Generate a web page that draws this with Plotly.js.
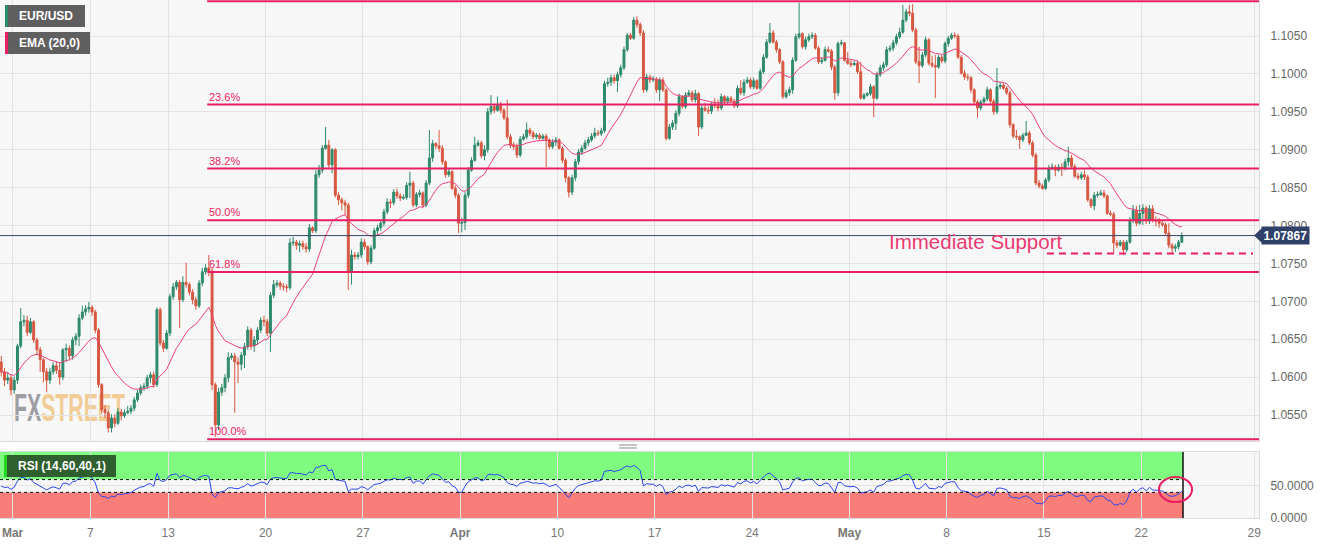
<!DOCTYPE html>
<html><head><meta charset="utf-8">
<script src="https://cdn.plot.ly/plotly-3.0.1.min.js"></script>
<style>html,body{margin:0;padding:0;background:#fff;}#chart{width:1328px;height:545px;}</style>
</head><body><div id="chart"></div>
<script>
// EUR/USD 4H candles, 28 Feb (late) .. 24 May 2023
const close = [
1.0607,1.0596,1.0599,1.0583,1.0596,1.0641,1.0673,1.0675,1.0659,1.0673,
1.0649,1.0636,1.0623,1.0607,1.0596,1.0607,1.0615,1.0609,1.0600,1.0636,
1.0638,1.0628,1.0649,1.0654,1.0678,1.0686,1.0690,1.0692,1.0686,1.0662,
1.0590,1.0557,1.0553,1.0533,1.0546,1.0539,1.0554,1.0549,1.0553,1.0555,
1.0559,1.0570,1.0579,1.0586,1.0588,1.0599,1.0603,1.0590,1.0689,1.0645,
1.0638,1.0658,1.0706,1.0719,1.0725,1.0702,1.0725,1.0722,1.0712,1.0702,
1.0694,1.0724,1.0739,1.0744,1.0740,1.0590,1.0537,1.0580,1.0586,1.0599,
1.0626,1.0628,1.0620,1.0617,1.0629,1.0640,1.0662,1.0641,1.0649,1.0662,
1.0675,1.0673,1.0658,1.0708,1.0722,1.0724,1.0720,1.0719,1.0718,1.0777,
1.0778,1.0774,1.0776,1.0772,1.0769,1.0797,1.0793,1.0867,1.0873,1.0902,
1.0906,1.0880,1.0900,1.0840,1.0834,1.0830,1.0827,1.0739,1.0761,1.0759,
1.0761,1.0778,1.0772,1.0752,1.0770,1.0793,1.0797,1.0803,1.0818,1.0831,
1.0830,1.0844,1.0839,1.0836,1.0837,1.0853,1.0856,1.0827,1.0841,1.0843,
1.0827,1.0856,1.0889,1.0908,1.0905,1.0902,1.0884,1.0867,1.0871,1.0849,
1.0840,1.0803,1.0804,1.0840,1.0873,1.0886,1.0906,1.0909,1.0892,1.0900,
1.0950,1.0957,1.0952,1.0958,1.0952,1.0942,1.0917,1.0906,1.0904,1.0893,
1.0914,1.0917,1.0926,1.0922,1.0917,1.0919,1.0915,1.0918,1.0913,1.0904,
1.0910,1.0913,1.0902,1.0886,1.0863,1.0844,1.0863,1.0884,1.0897,1.0902,
1.0909,1.0913,1.0918,1.0922,1.0921,1.0925,1.0987,1.0989,1.0995,1.0991,
1.0999,1.1008,1.1032,1.1051,1.1047,1.1071,1.1065,1.1054,1.0979,1.0996,
1.0992,1.0993,1.0979,1.0992,1.0979,1.0915,1.0930,1.0935,1.0948,1.0970,
1.0957,1.0972,1.0975,1.0966,1.0974,1.0930,1.0955,1.0952,1.0951,1.0960,
1.0958,1.0955,1.0970,1.0964,1.0968,1.0964,1.0958,1.0981,1.0975,1.0989,
1.0992,1.0983,1.0991,1.0981,1.1003,1.1022,1.1042,1.1054,1.1042,1.1032,
1.1016,1.0970,1.0975,1.0979,1.1018,1.1049,1.1053,1.1036,1.1045,1.1049,
1.1051,1.1034,1.1016,1.1018,1.1032,1.1030,1.1009,1.0975,1.1040,1.1041,
1.1018,1.1014,1.1012,1.1014,1.1003,1.0968,1.0972,1.0974,1.0983,1.0968,
1.0999,1.1008,1.1012,1.1032,1.1034,1.1041,1.1049,1.1055,1.1071,1.1082,
1.1080,1.1058,1.1016,1.1011,1.1025,1.1045,1.1014,1.1011,1.1009,1.1022,
1.1017,1.1040,1.1047,1.1051,1.1050,1.1022,1.1001,1.0996,1.0995,1.0979,
1.0963,1.0955,1.0963,1.0967,1.0979,1.0964,1.0950,1.0983,1.0985,1.0981,
1.0975,1.0933,1.0918,1.0917,1.0913,1.0919,1.0922,1.0909,1.0893,1.0856,
1.0852,1.0849,1.0860,1.0876,1.0877,1.0873,1.0877,1.0876,1.0884,1.0889,
1.0878,1.0865,1.0863,1.0867,1.0864,1.0834,1.0826,1.0840,1.0841,1.0843,
1.0839,1.0816,1.0815,1.0777,1.0774,1.0778,1.0768,1.0778,1.0807,1.0820,
1.0803,1.0816,1.0823,1.0806,1.0822,1.0807,1.0806,1.0803,1.0801,1.0790,
1.0774,1.0770,1.0772,1.0778,1.07867];

const open = [1.0620,
1.0607,1.0596,1.0599,1.0583,1.0596,1.0641,1.0673,1.0675,1.0659,1.0673,
1.0649,1.0636,1.0623,1.0607,1.0596,1.0607,1.0615,1.0609,1.0600,1.0636,
1.0638,1.0628,1.0649,1.0654,1.0678,1.0686,1.0690,1.0692,1.0686,1.0662,
1.0590,1.0557,1.0553,1.0533,1.0546,1.0539,1.0554,1.0549,1.0553,1.0555,
1.0559,1.0570,1.0579,1.0586,1.0588,1.0599,1.0603,1.0590,1.0689,1.0645,
1.0638,1.0658,1.0706,1.0719,1.0725,1.0702,1.0725,1.0722,1.0712,1.0702,
1.0694,1.0724,1.0739,1.0744,1.0740,1.0590,1.0537,1.0580,1.0586,1.0599,
1.0626,1.0628,1.0620,1.0617,1.0629,1.0640,1.0662,1.0641,1.0649,1.0662,
1.0675,1.0673,1.0658,1.0708,1.0722,1.0724,1.0720,1.0719,1.0718,1.0777,
1.0778,1.0774,1.0776,1.0772,1.0769,1.0797,1.0793,1.0867,1.0873,1.0902,
1.0906,1.0880,1.0900,1.0840,1.0834,1.0830,1.0827,1.0739,1.0761,1.0759,
1.0761,1.0778,1.0772,1.0752,1.0770,1.0793,1.0797,1.0803,1.0818,1.0831,
1.0830,1.0844,1.0839,1.0836,1.0837,1.0853,1.0856,1.0827,1.0841,1.0843,
1.0827,1.0856,1.0889,1.0908,1.0905,1.0902,1.0884,1.0867,1.0871,1.0849,
1.0840,1.0803,1.0804,1.0840,1.0873,1.0886,1.0906,1.0909,1.0892,1.0900,
1.0950,1.0957,1.0952,1.0958,1.0952,1.0942,1.0917,1.0906,1.0904,1.0893,
1.0914,1.0917,1.0926,1.0922,1.0917,1.0919,1.0915,1.0918,1.0913,1.0904,
1.0910,1.0913,1.0902,1.0886,1.0863,1.0844,1.0863,1.0884,1.0897,1.0902,
1.0909,1.0913,1.0918,1.0922,1.0921,1.0925,1.0987,1.0989,1.0995,1.0991,
1.0999,1.1008,1.1032,1.1051,1.1047,1.1071,1.1065,1.1054,1.0979,1.0996,
1.0992,1.0993,1.0979,1.0992,1.0979,1.0915,1.0930,1.0935,1.0948,1.0970,
1.0957,1.0972,1.0975,1.0966,1.0974,1.0930,1.0955,1.0952,1.0951,1.0960,
1.0958,1.0955,1.0970,1.0964,1.0968,1.0964,1.0958,1.0981,1.0975,1.0989,
1.0992,1.0983,1.0991,1.0981,1.1003,1.1022,1.1042,1.1054,1.1042,1.1032,
1.1016,1.0970,1.0975,1.0979,1.1018,1.1049,1.1053,1.1036,1.1045,1.1049,
1.1051,1.1034,1.1016,1.1018,1.1032,1.1030,1.1009,1.0975,1.1040,1.1041,
1.1018,1.1014,1.1012,1.1014,1.1003,1.0968,1.0972,1.0974,1.0983,1.0968,
1.0999,1.1008,1.1012,1.1032,1.1034,1.1041,1.1049,1.1055,1.1071,1.1082,
1.1080,1.1058,1.1016,1.1011,1.1025,1.1045,1.1014,1.1011,1.1009,1.1022,
1.1017,1.1040,1.1047,1.1051,1.1050,1.1022,1.1001,1.0996,1.0995,1.0979,
1.0963,1.0955,1.0963,1.0967,1.0979,1.0964,1.0950,1.0983,1.0985,1.0981,
1.0975,1.0933,1.0918,1.0917,1.0913,1.0919,1.0922,1.0909,1.0893,1.0856,
1.0852,1.0849,1.0860,1.0876,1.0877,1.0873,1.0877,1.0876,1.0884,1.0889,
1.0878,1.0865,1.0863,1.0867,1.0864,1.0834,1.0826,1.0840,1.0841,1.0843,
1.0839,1.0816,1.0815,1.0777,1.0774,1.0778,1.0768,1.0778,1.0807,1.0820,
1.0803,1.0816,1.0823,1.0806,1.0822,1.0807,1.0806,1.0803,1.0801,1.0790,
1.0774,1.0770,1.0772,1.0778];

const high = [
1.0628,1.0612,1.0607,1.0603,1.0601,1.0644,1.0691,1.0682,1.0681,1.0678,
1.0675,1.0652,1.0640,1.0625,1.0612,1.0612,1.0620,1.0620,1.0620,1.0638,
1.0644,1.0642,1.0653,1.0658,1.0683,1.0694,1.0695,1.0699,1.0695,1.0689,
1.0665,1.0592,1.0563,1.0557,1.0551,1.0551,1.0559,1.0558,1.0557,1.0562,
1.0563,1.0574,1.0583,1.0590,1.0592,1.0603,1.0607,1.0607,1.0692,1.0692,
1.0649,1.0662,1.0710,1.0724,1.0728,1.0728,1.0733,1.0751,1.0725,1.0716,
1.0706,1.0728,1.0744,1.0749,1.0761,1.0744,1.0593,1.0586,1.0591,1.0604,
1.0633,1.0632,1.0632,1.0626,1.0633,1.0645,1.0667,1.0665,1.0654,1.0666,
1.0679,1.0681,1.0677,1.0712,1.0728,1.0728,1.0727,1.0724,1.0723,1.0783,
1.0785,1.0781,1.0780,1.0780,1.0777,1.0802,1.0799,1.0873,1.0880,1.0906,
1.0930,1.0913,1.0902,1.0902,1.0844,1.0837,1.0834,1.0830,1.0768,1.0765,
1.0765,1.0783,1.0782,1.0774,1.0774,1.0797,1.0801,1.0807,1.0822,1.0836,
1.0835,1.0848,1.0849,1.0843,1.0841,1.0857,1.0871,1.0859,1.0844,1.0847,
1.0845,1.0860,1.0926,1.0913,1.0910,1.0926,1.0906,1.0886,1.0875,1.0873,
1.0853,1.0843,1.0810,1.0844,1.0877,1.0890,1.0917,1.0913,1.0912,1.0906,
1.0955,1.0972,1.0960,1.0970,1.0963,1.0955,1.0966,1.0921,1.0910,1.0908,
1.0918,1.0921,1.0936,1.0929,1.0925,1.0922,1.0922,1.0921,1.0921,1.0915,
1.0914,1.0917,1.0915,1.0905,1.0889,1.0865,1.0867,1.0888,1.0901,1.0906,
1.0913,1.0917,1.0922,1.0929,1.0926,1.0929,1.0991,1.0995,1.0999,1.0999,
1.1003,1.1012,1.1036,1.1054,1.1054,1.1075,1.1076,1.1068,1.1058,1.1000,
1.0999,1.0997,1.0996,1.0995,1.0995,1.0981,1.0934,1.0939,1.0952,1.0974,
1.0972,1.0976,1.0979,1.0978,1.0979,1.0976,1.0959,1.0962,1.0958,1.0963,
1.0968,1.0966,1.0974,1.0972,1.0971,1.0971,1.0967,1.0985,1.0992,1.0993,
1.0996,1.0995,1.0995,1.0993,1.1007,1.1026,1.1046,1.1067,1.1058,1.1045,
1.1034,1.1018,1.0979,1.0983,1.1022,1.1053,1.1094,1.1055,1.1049,1.1053,
1.1055,1.1054,1.1037,1.1022,1.1036,1.1036,1.1033,1.1012,1.1043,1.1045,
1.1042,1.1029,1.1018,1.1017,1.1017,1.1016,1.0975,1.0976,1.0987,1.0985,
1.1003,1.1012,1.1016,1.1036,1.1038,1.1045,1.1053,1.1061,1.1091,1.1086,
1.1091,1.1092,1.1061,1.1036,1.1029,1.1049,1.1047,1.1024,1.1025,1.1025,
1.1025,1.1043,1.1050,1.1054,1.1055,1.1053,1.1025,1.1005,1.1000,1.0997,
1.0981,1.0966,1.0966,1.0970,1.0983,1.0981,1.0967,1.1008,1.0989,1.0988,
1.0984,1.0978,1.0935,1.0926,1.0919,1.0922,1.0938,1.0925,1.0912,1.0896,
1.0860,1.0855,1.0863,1.0880,1.0882,1.0880,1.0881,1.0882,1.0888,1.0904,
1.0893,1.0881,1.0869,1.0871,1.0873,1.0867,1.0836,1.0844,1.0845,1.0847,
1.0847,1.0841,1.0820,1.0818,1.0781,1.0781,1.0781,1.0781,1.0811,1.0827,
1.0826,1.0827,1.0828,1.0826,1.0827,1.0827,1.0812,1.0810,1.0807,1.0804,
1.0803,1.0777,1.0776,1.0781,1.0791];

const low = [
1.0601,1.0588,1.0591,1.0576,1.0578,1.0591,1.0638,1.0667,1.0654,1.0657,
1.0645,1.0629,1.0607,1.0593,1.0580,1.0591,1.0603,1.0604,1.0590,1.0596,
1.0620,1.0623,1.0623,1.0642,1.0641,1.0675,1.0681,1.0685,1.0681,1.0658,
1.0586,1.0553,1.0546,1.0527,1.0527,1.0534,1.0537,1.0543,1.0546,1.0551,
1.0551,1.0555,1.0567,1.0576,1.0582,1.0584,1.0592,1.0586,1.0587,1.0641,
1.0633,1.0636,1.0654,1.0702,1.0715,1.0665,1.0699,1.0718,1.0708,1.0696,
1.0689,1.0691,1.0720,1.0735,1.0733,1.0583,1.0521,1.0530,1.0575,1.0580,
1.0593,1.0623,1.0553,1.0592,1.0609,1.0612,1.0636,1.0636,1.0633,1.0642,
1.0658,1.0667,1.0654,1.0633,1.0704,1.0718,1.0715,1.0714,1.0712,1.0715,
1.0773,1.0768,1.0765,1.0768,1.0764,1.0765,1.0790,1.0790,1.0863,1.0869,
1.0900,1.0876,1.0869,1.0837,1.0827,1.0820,1.0814,1.0715,1.0722,1.0755,
1.0755,1.0757,1.0768,1.0748,1.0749,1.0768,1.0789,1.0793,1.0799,1.0815,
1.0823,1.0827,1.0835,1.0832,1.0834,1.0834,1.0836,1.0824,1.0824,1.0837,
1.0823,1.0824,1.0853,1.0884,1.0901,1.0897,1.0880,1.0863,1.0864,1.0847,
1.0836,1.0790,1.0791,1.0794,1.0836,1.0871,1.0884,1.0904,1.0889,1.0886,
1.0896,1.0946,1.0948,1.0950,1.0948,1.0939,1.0914,1.0902,1.0900,1.0889,
1.0890,1.0912,1.0914,1.0918,1.0914,1.0914,1.0912,1.0912,1.0877,1.0901,
1.0901,1.0905,1.0900,1.0882,1.0857,1.0837,1.0840,1.0859,1.0880,1.0893,
1.0900,1.0905,1.0910,1.0915,1.0918,1.0918,1.0922,1.0983,1.0984,1.0987,
1.0976,1.0995,1.1005,1.1029,1.1045,1.1045,1.1061,1.1050,1.0975,1.0976,
1.0988,1.0989,1.0975,1.0964,1.0976,1.0912,1.0913,1.0926,1.0926,1.0944,
1.0954,1.0954,1.0970,1.0963,1.0962,1.0918,1.0927,1.0950,1.0947,1.0947,
1.0955,1.0951,1.0952,1.0960,1.0960,1.0962,1.0955,1.0955,1.0972,1.0971,
1.0987,1.0980,1.0980,1.0979,1.0979,1.1000,1.1020,1.1040,1.1040,1.1028,
1.1013,1.0967,1.0967,1.0971,1.0974,1.1016,1.1046,1.1033,1.1032,1.1042,
1.1046,1.1032,1.1013,1.1013,1.1016,1.1028,1.1005,1.0966,1.0971,1.1037,
1.1016,1.1012,1.1009,1.1011,1.1000,1.0966,1.0966,1.0970,1.0971,1.0943,
1.0966,1.0996,1.1004,1.1009,1.1029,1.1030,1.1038,1.1046,1.1053,1.1068,
1.1076,1.1055,1.1013,1.0988,1.1008,1.1022,1.1011,1.1008,1.0968,1.1007,
1.1014,1.1014,1.1036,1.1045,1.1047,1.1020,1.0999,1.0992,1.0991,1.0975,
1.0960,1.0942,1.0952,1.0960,1.0964,1.0960,1.0946,1.0947,1.0980,1.0979,
1.0972,1.0929,1.0915,1.0913,1.0901,1.0910,1.0918,1.0906,1.0890,1.0853,
1.0849,1.0847,1.0847,1.0857,1.0873,1.0865,1.0871,1.0865,1.0873,1.0878,
1.0876,1.0863,1.0860,1.0860,1.0860,1.0831,1.0823,1.0820,1.0837,1.0839,
1.0836,1.0814,1.0812,1.0764,1.0770,1.0772,1.0761,1.0765,1.0776,1.0803,
1.0799,1.0801,1.0801,1.0802,1.0802,1.0804,1.0799,1.0797,1.0798,1.0787,
1.0770,1.0763,1.0765,1.0768,1.0777];

// x-axis ticks (trading days from 1 Mar)
const tickDays = [0, 4, 8, 13, 18, 23, 28, 33, 38, 43, 48, 53, 58, 63.8];
const tickLabels = ['<b>Mar</b>','7','13','20','27','<b>Apr</b>','10','17','24','<b>May</b>','8','15','22','29'];
// Fibonacci retracement (swing high / low)
const fibHigh = 1.1096, fibLow = 1.0518;
const fibLevels = [0, 23.6, 38.2, 50.0, 61.8, 100.0];
const fibStartDay = 10;
const lastPrice = 1.07867;
const supportLevel = 1.0763;
const emaPeriod = 20, rsiPeriod = 14, rsiUpper = 60, rsiLower = 40;

// ---------- geometry ----------
const PW = 1259, PH = 518;
const dayPx = 19.46, day0Px = 12.6;
const pxToDay = px => (px - day0Px) / dayPx;
const tL = pxToDay(0), tR = pxToDay(PW);
const px2x = px => px / PW;          // paper x
const py2y = py => 1 - py / PH;      // paper y
const yTop = 1.10975, pxPerUnit = 7580;
const mainBottomPx = 441;

const tc = close.map((_, i) => (i + 2.5) / 6 - 1);

// EMA
const kE = 2 / (emaPeriod + 1);
const ema = [];
close.forEach((c, i) => ema.push(i === 0 ? c : c * kE + ema[i - 1] * (1 - kE)));
// RSI (Wilder), warm-up seeded neutral from the mean absolute change of the first period
let seed = 0;
for (let i = 1; i <= rsiPeriod; i++) seed += Math.abs(close[i] - close[i - 1]);
seed /= rsiPeriod;
let ag = seed / 2, al = seed / 2;
const rsi = [50];
for (let i = 1; i < close.length; i++) {
  const ch = close[i] - close[i - 1];
  const g = Math.max(ch, 0), l = Math.max(-ch, 0);
  ag = (ag * (rsiPeriod - 1) + g) / rsiPeriod; al = (al * (rsiPeriod - 1) + l) / rsiPeriod;
  rsi.push(al === 0 ? 100 : 100 - 100 / (1 + ag / al));
}

const PINK = '#e91e63';
const font = 'Liberation Sans, Arial, sans-serif';
const tEnd = pxToDay(1183);
const rsiTop = 103.1;

const traces = [
  {type:'candlestick', x: tc, open, high, low, close, xaxis:'x', yaxis:'y',
   increasing:{line:{color:'#2e8a6c', width:1}, fillcolor:'#2e8a6c'},
   decreasing:{line:{color:'#d75741', width:1}, fillcolor:'#d75741'},
   whiskerwidth:0, hoverinfo:'skip', showlegend:false},
  {type:'scatter', mode:'lines', x: tc, y: ema, xaxis:'x', yaxis:'y',
   line:{color:'#ec407a', width:1}, hoverinfo:'skip', showlegend:false},
  {type:'scatter', mode:'lines', x: tc, y: rsi, xaxis:'x2', yaxis:'y2',
   line:{color:'#2a45ee', width:1}, hoverinfo:'skip', showlegend:false}
];

const shapes = [];
const annotations = [];
// RSI zones
shapes.push({type:'rect', xref:'x2', yref:'y2', x0:tL, x1:tEnd, y0:rsiUpper, y1:rsiTop, fillcolor:'#7ffb7f', line:{width:0}, layer:'below'});
shapes.push({type:'rect', xref:'x2', yref:'y2', x0:tL, x1:tEnd, y0:0, y1:rsiLower, fillcolor:'#f97d79', line:{width:0}, layer:'below'});
[rsiUpper, rsiLower].forEach(v => shapes.push({type:'line', xref:'x2', yref:'y2', x0:tL, x1:tEnd, y0:v, y1:v, line:{color:'#111', width:1, dash:'dot'}}));
shapes.push({type:'line', xref:'x2', yref:'y2', x0:tEnd, x1:tEnd, y0:0, y1:rsiTop, line:{color:'#111', width:1.5}});
// RSI end circle
shapes.push({type:'circle', xref:'paper', yref:'paper', x0:px2x(1159), x1:px2x(1192), y0:py2y(502), y1:py2y(477), line:{color:PINK, width:2}});
// Fibonacci lines + labels
fibLevels.forEach(lv => {
  const p = fibHigh - (fibHigh - fibLow) * lv / 100;
  shapes.push({type:'line', xref:'x', yref:'y', x0:fibStartDay, x1:tR, y0:p, y1:p, line:{color:PINK, width:2}});
  if (lv > 0) annotations.push({xref:'x', yref:'y', x:fibStartDay, y:p, xanchor:'left', yanchor:'bottom', yshift:0,
    text: lv.toFixed(1) + '%', showarrow:false, font:{family:font, size:11, color:PINK}});
});
// current price line & label
shapes.push({type:'line', xref:'paper', yref:'y', x0:0, x1:1, y0:lastPrice, y1:lastPrice, line:{color:'#34466b', width:1}});
const dy = 7.5 / pxPerUnit;
shapes.push({type:'path', xref:'paper', yref:'y', path:`M ${px2x(1254)} ${lastPrice} L ${px2x(1262)} ${lastPrice+dy} L ${px2x(1262)} ${lastPrice-dy} Z`, fillcolor:'#2f4169', line:{width:0}});
annotations.push({xref:'paper', yref:'y', x:px2x(1261), y:lastPrice, xanchor:'left', yanchor:'middle', text:'<b>' + lastPrice.toFixed(5) + '</b>',
  showarrow:false, bgcolor:'#2f4169', borderpad:1.5, font:{family:font, size:12, color:'#ffffff'}});
// support
shapes.push({type:'line', xref:'x', yref:'y', x0:pxToDay(1047), x1:pxToDay(1253), y0:supportLevel, y1:supportLevel, line:{color:PINK, width:2, dash:'7px,5px'}});
annotations.push({xref:'x', yref:'y', x:pxToDay(887), y:yTop - 241/pxPerUnit, xanchor:'left', yanchor:'middle', text:'Immediate Support', showarrow:false,
  font:{family:font, size:20.5, color:'#ea3a72'}});
// legend boxes
function tag(x0, y0, x1, y1, fill, stripe, text) {
  shapes.push({type:'rect', xref:'paper', yref:'paper', x0:px2x(x0), x1:px2x(x1), y0:py2y(y1), y1:py2y(y0), fillcolor:fill, line:{width:0}});
  shapes.push({type:'rect', xref:'paper', yref:'paper', x0:px2x(x0), x1:px2x(x0+3), y0:py2y(y1), y1:py2y(y0), fillcolor:stripe, line:{width:0}});
  annotations.push({xref:'paper', yref:'paper', x:px2x(x0+12), y:py2y((y0+y1)/2), xanchor:'left', yanchor:'middle', text:'<b>'+text+'</b>', showarrow:false,
    font:{family:font, size:12, color:'#ffffff'}});
}
tag(5, 5, 85, 27, '#5f5f5f', '#2e8a6c', 'EUR/USD');
tag(5, 32, 90, 54, '#5f5f5f', PINK, 'EMA (20,0)');
tag(4, 455, 116, 477, '#2f5f2f', '#22d622', 'RSI (14,60,40,1)');
// panel handle
[445, 448].forEach(py => shapes.push({type:'line', xref:'paper', yref:'paper', x0:px2x(619), x1:px2x(637), y0:py2y(py), y1:py2y(py), line:{color:'#8a8a8a', width:1}}));

// watermark
const wm = '<svg xmlns="http://www.w3.org/2000/svg" width="112" height="30" viewBox="0 0 112 30"><text x="0" y="28.5" font-family="Liberation Sans, Arial, sans-serif" font-weight="bold" font-size="39" textLength="111" lengthAdjust="spacingAndGlyphs"><tspan fill="#8f8f94">FX</tspan><tspan fill="#f1c585">STREET</tspan></text></svg>';
const images = [{source:'data:image/svg+xml;charset=utf-8,' + encodeURIComponent(wm), xref:'paper', yref:'paper',
  x:px2x(14), y:py2y(392), sizex:px2x(112), sizey:30/PH, xanchor:'left', yanchor:'top', sizing:'stretch', layer:'below', opacity:0.85}];

const grid = '#e3e3e6', border = '#d6dae2';
const layout = {
  width:1328, height:545, autosize:false,
  margin:{l:0, r:1328-PW, t:0, b:545-PH, pad:0},
  paper_bgcolor:'#ffffff', plot_bgcolor:'#f7f7f7',
  font:{family:font, size:12, color:'#666'},
  showlegend:false, dragmode:false, boxgap:0.15,
  xaxis:{domain:[0,1], anchor:'y', range:[tL, tR], tickvals:tickDays, ticktext:tickLabels, showticklabels:false,
    showgrid:true, gridcolor:grid, zeroline:false, showline:true, mirror:true, linecolor:border, rangeslider:{visible:false}, fixedrange:true},
  yaxis:{domain:[1 - mainBottomPx/PH, 1], anchor:'x', side:'right', range:[yTop - mainBottomPx/pxPerUnit, yTop], tick0:1.05, dtick:0.005,
    tickformat:'.4f', showgrid:true, gridcolor:grid, zeroline:false, showline:true, mirror:true, linecolor:border, ticks:'',
    ticklabelstandoff:8, tickfont:{family:font, size:12, color:'#666'}, fixedrange:true},
  xaxis2:{domain:[0,1], anchor:'y2', range:[tL, tR], tickvals:tickDays, ticktext:tickLabels, showgrid:true, gridcolor:grid,
    zeroline:false, showline:true, mirror:true, linecolor:border, ticks:'', ticklabelstandoff:4,
    tickfont:{family:font, size:12, color:'#777'}, fixedrange:true},
  yaxis2:{domain:[0, 66/PH], anchor:'x2', side:'right', range:[0, rsiTop], tickvals:[0,50], ticktext:['0.0000','50.0000'],
    showgrid:true, gridcolor:grid, zeroline:false, showline:true, mirror:true, linecolor:border, ticks:'', ticklabelstandoff:8,
    tickfont:{family:font, size:12, color:'#666'}, fixedrange:true},
  shapes, annotations, images
};
Plotly.newPlot('chart', traces, layout, {staticPlot:true, displayModeBar:false});
</script></body></html>
